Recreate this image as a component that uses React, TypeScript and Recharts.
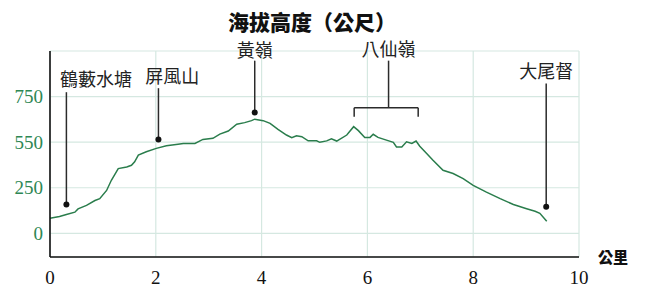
import { LineChart, Line, XAxis, YAxis, CartesianGrid, ReferenceLine, ReferenceDot } from 'recharts';

const distanceKm = [
  0, 0.18, 0.31, 0.47, 0.53, 0.69, 0.85, 0.94, 1.07, 1.16, 1.29, 1.45, 1.54, 1.6, 1.67, 1.82, 2.01, 2.2, 2.42, 2.52,
  2.74, 2.89, 3.08, 3.21, 3.37, 3.53, 3.68, 3.81, 3.87, 4.03, 4.16, 4.31, 4.47, 4.57, 4.66, 4.76, 4.88, 5.04, 5.1, 5.23,
  5.32, 5.42, 5.61, 5.74, 5.83, 5.95, 6.05, 6.11, 6.2, 6.36, 6.49, 6.55, 6.65, 6.74, 6.84, 6.92, 6.99, 7.12, 7.24, 7.43,
  7.62, 7.81, 8.0, 8.25, 8.51, 8.76, 9.01, 9.17, 9.26, 9.39,
];
const elevation = [
  83, 92, 103, 116, 134, 153, 180, 190, 235, 291, 355, 364, 373, 392, 429, 447, 466, 480, 489, 493,
  493, 515, 521, 544, 561, 598, 607, 618, 626, 618, 603, 570, 539, 524, 535, 530, 507, 507, 499, 507,
  518, 506, 539, 585, 563, 526, 526, 543, 526, 511, 499, 474, 474, 502, 493, 506, 478, 438, 401, 346,
  328, 300, 263, 226, 190, 158, 135, 121, 110, 66,
];

const xTicks = [0, 2, 4, 6, 8, 10];
const yTicks = [0, 250, 500, 750];
const yTickLabels = ['0', '250', '550', '750'];

// annotated places: label position, leader line top and dot
const placeNames = ['鶴藪水塘', '屏風山', '黃嶺', '大尾督'];
const placeKm = [0.31, 2.05, 3.87, 9.38];
const placeLabelKm = [0.87, 2.31, 3.87, 9.38];
const placeLabelY = [842, 860, 1004, 887];
const placeLineTop = [774, 796, 947, 822];
const placeDot = [158, 515, 662, 146];

// 八仙嶺 bracket
const rangeName = '八仙嶺';
const rangeFrom = 5.75;
const rangeTo = 6.96;
const rangeMid = 6.4;
const rangeLabelY = 1008;
const rangeTop = 947;
const rangeBar = 689;
const rangeFoot = 640;

const data = distanceKm.map((km, i) => ({ km, elev: elevation[i] }));

const cjk = '"Noto Sans CJK TC", "Noto Sans CJK SC", sans-serif';
const serif = '"Liberation Serif", "DejaVu Serif", serif';
const ink = '#2b2b2b';

export default function App() {
  return (
    <div style={{ position: 'absolute', left: 0, top: 0, width: 650, height: 297 }}>
      <div
        style={{
          position: 'absolute', left: 0, width: 624, top: 7, textAlign: 'center',
          fontFamily: cjk, fontWeight: 900, fontSize: 21, lineHeight: '28px', color: '#111',
        }}
      >
        海拔高度（公尺）
      </div>
      <div
        style={{
          position: 'absolute', left: 598, top: 247, fontFamily: cjk, fontWeight: 900,
          fontSize: 15, lineHeight: '20px', color: '#111',
        }}
      >
        公里
      </div>
      <LineChart width={650} height={297} data={data} margin={{ top: 51, right: 71, bottom: 0, left: 0 }}>
        <CartesianGrid stroke="#d5e8e1" strokeWidth={1.2} />
        <XAxis
          dataKey="km"
          type="number"
          domain={[0, 10]}
          ticks={xTicks}
          height={40}
          tickLine={false}
          tickSize={0}
          tickMargin={14}
          axisLine={{ stroke: '#111', strokeWidth: 1.6 }}
          tick={{ fill: '#111', fontSize: 19, fontFamily: serif }}
        />
        <YAxis
          type="number"
          domain={[-130, 1000]}
          allowDataOverflow
          ticks={yTicks}
          width={50}
          tickLine={false}
          tickSize={0}
          tickMargin={7}
          axisLine={{ stroke: '#111', strokeWidth: 1.6 }}
          tickFormatter={(v: number) => yTickLabels[yTicks.indexOf(v)]}
          tick={{ fill: '#2e8754', fontSize: 19, fontFamily: serif }}
        />
        <Line
          type="linear"
          dataKey="elev"
          stroke="#2a7d4c"
          strokeWidth={1.5}
          dot={false}
          isAnimationActive={false}
        />
        {placeNames.map((name, i) => (
          <ReferenceLine
            key={'l' + name}
            ifOverflow="visible"
            segment={[{ x: placeKm[i], y: placeLineTop[i] }, { x: placeKm[i], y: placeDot[i] }]}
            stroke={ink}
            strokeWidth={1.5}
          />
        ))}
        {placeNames.map((name, i) => (
          <ReferenceDot key={'d' + name} x={placeKm[i]} y={placeDot[i]} r={3} fill="#111" stroke="none" ifOverflow="visible" />
        ))}
        {placeNames.map((name, i) => (
          <ReferenceDot
            key={'t' + name}
            x={placeLabelKm[i]}
            y={placeLabelY[i]}
            r={0}
            ifOverflow="visible"
            label={{ value: name, position: 'center', fill: '#222', fontSize: 18, fontFamily: cjk }}
          />
        ))}
        <ReferenceLine
          ifOverflow="visible"
          segment={[{ x: rangeMid, y: rangeTop }, { x: rangeMid, y: rangeBar }]}
          stroke={ink}
          strokeWidth={1.5}
        />
        <ReferenceLine
          ifOverflow="visible"
          segment={[{ x: rangeFrom, y: rangeBar }, { x: rangeTo, y: rangeBar }]}
          stroke={ink}
          strokeWidth={1.5}
        />
        <ReferenceLine
          ifOverflow="visible"
          segment={[{ x: rangeFrom, y: rangeBar }, { x: rangeFrom, y: rangeFoot }]}
          stroke={ink}
          strokeWidth={1.5}
        />
        <ReferenceLine
          ifOverflow="visible"
          segment={[{ x: rangeTo, y: rangeBar }, { x: rangeTo, y: rangeFoot }]}
          stroke={ink}
          strokeWidth={1.5}
        />
        <ReferenceDot
          x={rangeMid}
          y={rangeLabelY}
          r={0}
          ifOverflow="visible"
          label={{ value: rangeName, position: 'center', fill: '#222', fontSize: 18, fontFamily: cjk }}
        />
      </LineChart>
    </div>
  );
}
